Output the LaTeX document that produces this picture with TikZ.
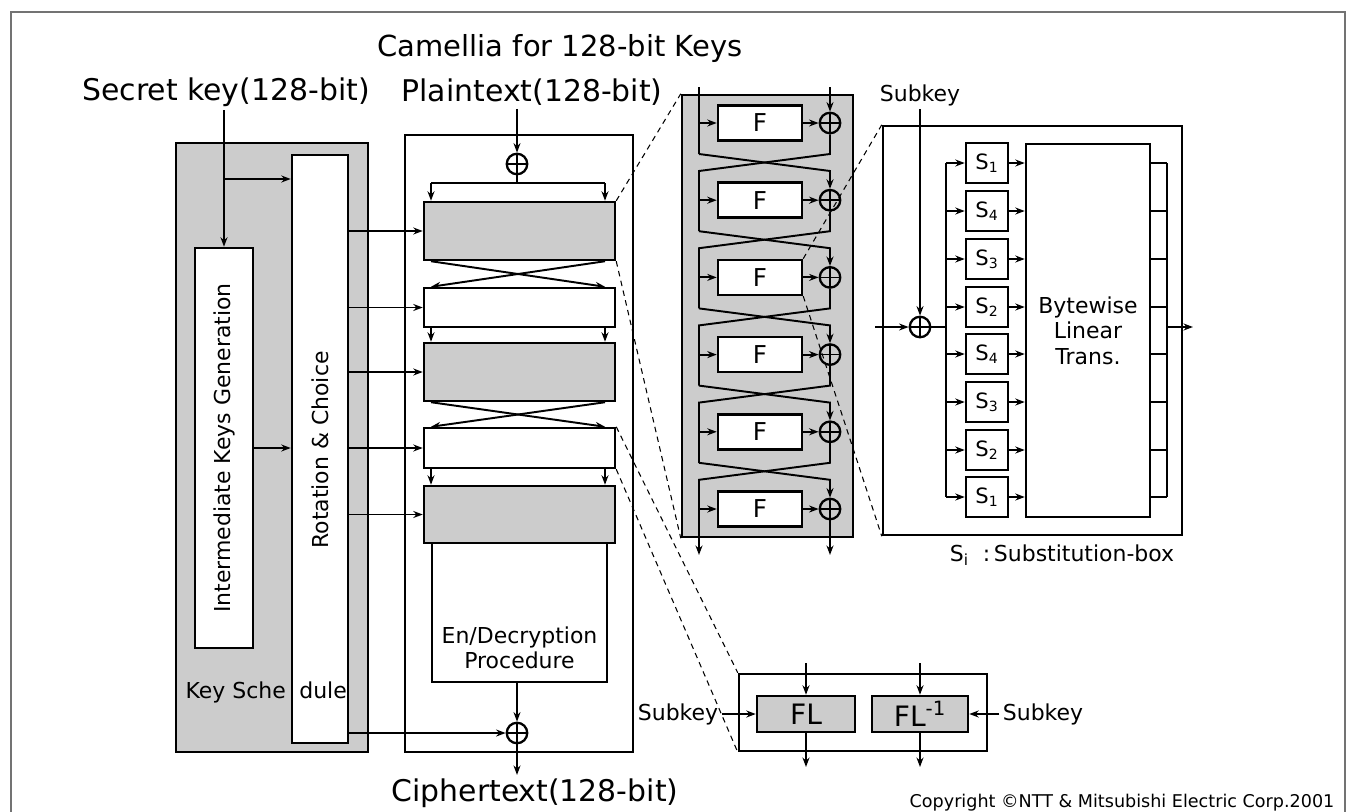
\documentclass[tikz,border=0pt]{standalone}
\usepackage{fontspec}
\setmainfont{DejaVu Sans}
\usetikzlibrary{arrows.meta}

\colorlet{stip}{black!20}
\tikzset{
  box/.style={draw,line width=1.4pt,inner sep=0pt,fill=white},
  gbox/.style={box,fill=stip},
  rnd/.style={minimum width=38.2mm},
  xorop/.style={circle,draw,line width=1.3pt,fill=none,minimum size=4.1mm,inner sep=0pt,
    path picture={\draw[line width=1pt]
      (path picture bounding box.north) -- (path picture bounding box.south)
      (path picture bounding box.west) -- (path picture bounding box.east);}},
  zoomln/.style={line width=0.6pt,dash pattern=on 1.1mm off 0.9mm},
  ttl/.style={font=\fontsize{16.5}{20}\selectfont,inner sep=1.5pt},
  io/.style={font=\fontsize{17}{20}\selectfont,inner sep=1.5pt},
  lbl/.style={font=\fontsize{12.5}{14.5}\selectfont,inner sep=1.5pt},
  ffont/.style={font=\fontsize{14}{16}\selectfont},
  sfont/.style={font=\fontsize{12}{14}\selectfont},
  flfont/.style={font=\fontsize{16}{18}\selectfont},
  cpy/.style={font=\fontsize{10}{12}\selectfont,inner sep=1pt}
}

\begin{document}
\begin{tikzpicture}[x=0.2mm,y=-0.2mm,line width=1.1pt,>={Stealth[length=1.9mm,width=1.4mm]}]
  \useasboundingbox (0,0) rectangle (1348,812);
  \draw[black!55,line width=0.6pt] (11,812) -- (11,12) -- (1345,12) -- (1345,812);
  \node[ttl] (title) at (560,48) {Camellia for 128-bit Keys};
  \node[io] (sk) at (226,92) {Secret key(128-bit)};
  \node[io] (pt) at (532,92) {Plaintext(128-bit)};
  \node[io] (ct) at (535,793) {Ciphertext(128-bit)};

  % --- key schedule ---
  \node[gbox,minimum width=38.4mm,minimum height=121.8mm] (ks) at (272,447.5) {};
  \node[box,minimum width=11.6mm,minimum height=80mm] (ikg) at (224,448) {};
  \node[lbl,rotate=90] at (224,448) {Intermediate Keys Generation};
  \node[box,minimum width=11.2mm,minimum height=117.6mm] (rc) at (320,449) {};
  \node[lbl,rotate=90] at (320,450) {Rotation \& Choice};
  \node[lbl,anchor=base west] at (182,698) {Key Sche\kern2.7mm dule};
  \draw[->] (sk.south -| ikg) -- (ikg);
  \draw[->] (224,179) -- (224,179 -| rc.west);
  \draw[->] (ikg.east) -- (ikg.east -| rc.west);

  % --- en/decryption ---
  \node[box,minimum width=45.6mm,minimum height=123.4mm] (enc) at (519,443.5) {};
  \node[gbox,rnd,minimum height=11.6mm] (r1) at (519.5,231) {};
  \node[box,rnd,minimum height=7.8mm] (r2) at (519.5,307.5) {};
  \node[gbox,rnd,minimum height=11.6mm] (r3) at (519.5,372) {};
  \node[box,rnd,minimum height=8mm] (r4) at (519.5,448) {};
  \node[gbox,rnd,minimum height=11.4mm] (r5) at (519.5,514.5) {};
  \node[box,minimum width=35mm,minimum height=27.8mm] (proc) at (519.5,612.5) {};
  \node[lbl,align=center] at (519.5,648) {En/Decryption\\Procedure};
  \node[xorop] (xin) at (517,164) {};
  \node[xorop] (xout) at (517,733) {};
  \coordinate (la) at (431,183);
  \coordinate (ra) at (605,183);
  \draw[->] (pt.south -| xin) -- (xin);
  \draw (xin) -- (517,183);
  \draw (la) -- (ra);
  \draw[->] (la) -- (la |- r1.north);
  \draw[->] (ra) -- (ra |- r1.north);
  \draw[->] (la |- r1.south) -- (ra |- r2.north);
  \draw[->] (ra |- r1.south) -- (la |- r2.north);
  \draw[->] (la |- r2.south) -- (la |- r3.north);
  \draw[->] (ra |- r2.south) -- (ra |- r3.north);
  \draw[->] (la |- r3.south) -- (ra |- r4.north);
  \draw[->] (ra |- r3.south) -- (la |- r4.north);
  \draw[->] (la |- r4.south) -- (la |- r5.north);
  \draw[->] (ra |- r4.south) -- (ra |- r5.north);
  \draw[->] (proc.south -| xout) -- (xout);
  \draw[->] (xout) -- (xout |- ct.north);
  \foreach \r in {r1,r2,r3,r4,r5}
    \draw[->] (rc.east |- \r) -- (\r.west);
  \draw[->] (rc.east |- xout) -- (xout);

  % --- F network ---
  \node[gbox,minimum width=34.2mm,minimum height=88.4mm] (fn) at (767.5,316) {};
  \foreach \i/\y in {1/123,2/200.2,3/277.4,4/354.6,5/431.8,6/509}{
    \node[box,ffont,minimum width=16.8mm,minimum height=7mm] (f\i) at (760,\y) {F};
    \node[xorop] (x\i) at (830,\y) {};
    \draw[->] (699,\y) -- (f\i);
    \draw[->] (f\i) -- (x\i);
  }
  \draw (699,87) -- (699,154);
  \draw[->] (830,87) -- (x1);
  \foreach \i/\j/\y/\n in {1/2/123/200.2,2/3/200.2/277.4,3/4/277.4/354.6,4/5/354.6/431.8,5/6/431.8/509}{
    \draw (x\i) -- (830,\y+31) -- (699,\y+48) -- (699,\n+31);
    \draw[->] (699,\y+31) -- (830,\y+48) -- (x\j);
  }
  \draw[->] (699,540) -- (699,555);
  \draw[->] (x6) -- (830,555);

  % --- F function ---
  \node[box,minimum width=59.8mm,minimum height=81.8mm] (sf) at (1032.5,330.5) {};
  \node[lbl] (skey) at (920,95) {Subkey};
  \node[xorop] (sx) at (920,327) {};
  \coordinate (sin) at (875,327);
  \draw[->] (skey) -- (sx);
  \draw[->] (sin) -- (sx);
  \draw (sx) -- (946,327);
  \draw (946,163) -- (946,497);
  \node[box,lbl,align=center,minimum width=24.8mm,minimum height=74.6mm] (lin) at (1088,330.5) {Bytewise\\Linear\\Trans.};
  \foreach \i/\y/\s in {1/163/1,2/211/4,3/259/3,4/307/2,5/354/4,6/402/3,7/450/2,8/497/1}{
    \node[box,sfont,minimum width=8.4mm,minimum height=8mm] (s\i) at (987,\y) {S\textsubscript{\s}};
    \draw[->] (946,\y) -- (s\i);
    \draw[->] (s\i) -- (s\i -| lin.west);
    \draw (lin.east |- s\i) -- (1167,\y);
  }
  \draw (1167,163) -- (1167,497);
  \draw[->] (1167,327) -- (1193,327);
  \node[lbl] at (1062,555) {S\textsubscript{i}\ \ :\,Substitution-box};

  % --- FL layer ---
  \node[box,minimum width=49.6mm,minimum height=15.4mm] (flf) at (863,712.5) {};
  \node[gbox,flfont,minimum width=19.6mm,minimum height=7.2mm] (fl) at (806,714) {FL};
  \node[gbox,flfont,minimum width=19.2mm,minimum height=7.2mm] (fli) at (920,714) {FL\textsuperscript{-1}};
  \draw[->] (fl.north |- 0,663) -- (fl);
  \draw[->] (fl) -- (fl.south |- 0,767);
  \draw[->] (fli.north |- 0,663) -- (fli);
  \draw[->] (fli) -- (fli.south |- 0,767);
  \node[lbl] (skl) at (678,714) {Subkey};
  \node[lbl] (skr) at (1043,714) {Subkey};
  \draw[->] (skl) -- (fl);
  \draw[->] (skr) -- (fli);

  % --- zoom lines ---
  \draw[zoomln] (r1.north east) -- (fn.north west);
  \draw[zoomln] (r1.south east) -- (fn.south west);
  \draw[zoomln] (r4.north east) -- (flf.north west);
  \draw[zoomln] (r4.south east) -- (flf.south west);
  \draw[zoomln] (f3.north east) -- (sf.north west);
  \draw[zoomln] (f3.south east) -- (sf.south west);

  \node[cpy] at (1122,803) {Copyright ©NTT \& Mitsubishi Electric Corp.2001};
\end{tikzpicture}
\end{document}
